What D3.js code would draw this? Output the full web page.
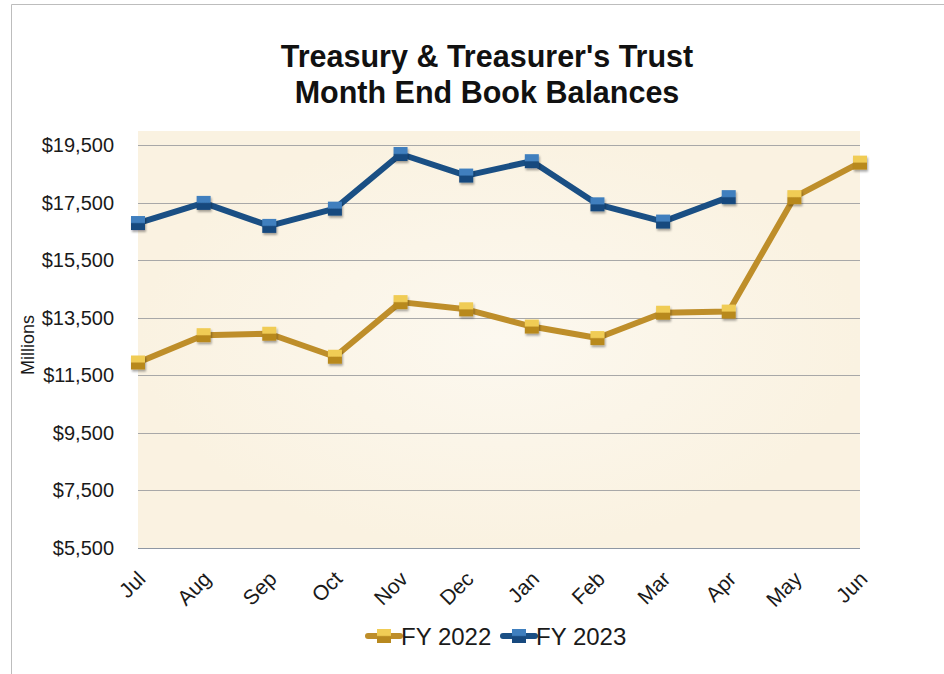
<!DOCTYPE html>
<html>
<head>
<meta charset="utf-8">
<script src="https://cdn.jsdelivr.net/npm/d3@7"></script>
<style>
  body { margin: 0; background: #fff; }
  svg { font-family: "Liberation Sans", Arial, sans-serif; }
</style>
</head>
<body>
<svg id="chart" width="944" height="674"></svg>
<script>
// chart data
var months = ["Jul", "Aug", "Sep", "Oct", "Nov", "Dec", "Jan", "Feb", "Mar", "Apr", "May", "Jun"];
var fy2022 = [11950, 12900, 12950, 12150, 14050, 13800, 13200, 12800, 13680, 13720, 17700, 18900];
var fy2023 = [16800, 17500, 16700, 17300, 19200, 18450, 18950, 17450, 16850, 17700];
var yTicks = [5500, 7500, 9500, 11500, 13500, 15500, 17500, 19500];
var titleLines = ["Treasury & Treasurer's Trust", "Month End Book Balances"];

var series = [
    { name: "FY 2022", values: fy2022, line: "#BE8E2A", light: "#F0CC55", dark: "#B8891F", grad: "g22" },
    { name: "FY 2023", values: fy2023, line: "#1A4F84", light: "#3F7FBE", dark: "#17497E", grad: "g23" }
];

var svg = d3.select("#chart");
var defs = svg.append("defs");

// bevel-ish gradients for the square markers
series.forEach(function (s) {
    var g = defs.append("linearGradient").attr("id", s.grad)
        .attr("x1", 0).attr("y1", 0).attr("x2", 0).attr("y2", 1);
    g.append("stop").attr("offset", "0%").attr("stop-color", s.light);
    g.append("stop").attr("offset", "45%").attr("stop-color", s.light);
    g.append("stop").attr("offset", "55%").attr("stop-color", s.dark);
    g.append("stop").attr("offset", "100%").attr("stop-color", s.dark);
});
var bg = defs.append("radialGradient").attr("id", "paper");
bg.append("stop").attr("offset", "0%").attr("stop-color", "#FCF8EF");
bg.append("stop").attr("offset", "100%").attr("stop-color", "#FAF2E1");
var sh = defs.append("filter").attr("id", "shadow")
    .attr("x", "-50%").attr("y", "-50%").attr("width", "200%").attr("height", "200%");
sh.append("feDropShadow").attr("dx", 1).attr("dy", 2).attr("stdDeviation", 1.2)
    .attr("flood-color", "#000").attr("flood-opacity", 0.35);

// outer frame (only top and left edges show)
svg.append("path").attr("d", "M11.5,674 V4.5 H944")
    .attr("fill", "none").attr("stroke", "#BDBDBD").attr("stroke-width", 1);

var x = d3.scalePoint().domain(months).range([138, 860]);
var y = d3.scaleLinear().domain([5500, 20000]).range([548, 131]);

// plot area
svg.append("rect").attr("x", 138).attr("y", 131)
    .attr("width", 722).attr("height", 417).attr("fill", "url(#paper)");

// gridlines
svg.append("g").selectAll("line").data(yTicks).join("line")
    .attr("x1", 138).attr("x2", 860)
    .attr("y1", d => Math.round(y(d)) + 0.5).attr("y2", d => Math.round(y(d)) + 0.5)
    .attr("stroke", d => d == 5500 ? "#8E97A3" : "#A8A8A8").attr("stroke-width", 1);

// y axis labels
var yAxis = d3.axisLeft(y).tickValues(yTicks).tickSize(0).tickPadding(0)
    .tickFormat(d => "$" + d3.format(",")(d));
svg.append("g").attr("transform", "translate(114,0)").call(yAxis)
    .call(g => g.select(".domain").remove())
    .call(g => g.attr("font-size", null).attr("font-family", null))
    .selectAll("text").attr("font-size", 20).attr("fill", "#1a1a1a");

svg.append("text").attr("transform", "translate(34,345) rotate(-90)")
    .attr("text-anchor", "middle").attr("font-size", 18).attr("fill", "#1a1a1a")
    .text("Millions");

// x axis labels, rotated
var xAxis = d3.axisBottom(x).tickSize(0).tickPadding(0);
svg.append("g").attr("transform", "translate(0,548)").call(xAxis)
    .call(g => g.select(".domain").remove())
    .call(g => g.attr("font-size", null).attr("font-family", null))
    .selectAll("text")
    .attr("font-size", 21).attr("fill", "#1a1a1a")
    .attr("text-anchor", "end").attr("dy", "0.35em").attr("y", 0)
    .attr("transform", "translate(3,27) rotate(-45)");

// lines + markers
var line = d3.line().x((d, i) => x(months[i])).y(d => y(d));
series.forEach(function (s) {
    svg.append("path").datum(s.values).attr("d", line)
        .attr("fill", "none").attr("stroke", s.line).attr("stroke-width", 6)
        .attr("stroke-linejoin", "round");
});
series.forEach(function (s) {
    svg.append("g").selectAll("rect").data(s.values).join("rect")
        .attr("x", (d, i) => x(months[i]) - 7).attr("y", d => y(d) - 7)
        .attr("width", 14).attr("height", 14)
        .attr("fill", "url(#" + s.grad + ")").attr("filter", "url(#shadow)");
});

// title
svg.append("g").selectAll("text").data(titleLines).join("text")
    .attr("x", 487).attr("y", (d, i) => 67 + i * 36)
    .attr("text-anchor", "middle").attr("font-size", 30.5).attr("font-weight", "bold")
    .attr("fill", "#111").text(d => d);

// legend
var legend = svg.append("g").selectAll("g").data(series).join("g")
    .attr("transform", (d, i) => "translate(" + (368 + i * 135) + ",636)");
legend.append("line").attr("x1", 0).attr("x2", 32)
    .attr("stroke", d => d.line).attr("stroke-width", 6).attr("stroke-linecap", "round");
legend.append("rect").attr("x", 9).attr("y", -7).attr("width", 14).attr("height", 14)
    .attr("fill", d => "url(#" + d.grad + ")");
legend.append("text").attr("x", 33).attr("y", 8.5)
    .attr("font-size", 24).attr("fill", "#1a1a1a").text(d => d.name);
</script>
</body>
</html>
